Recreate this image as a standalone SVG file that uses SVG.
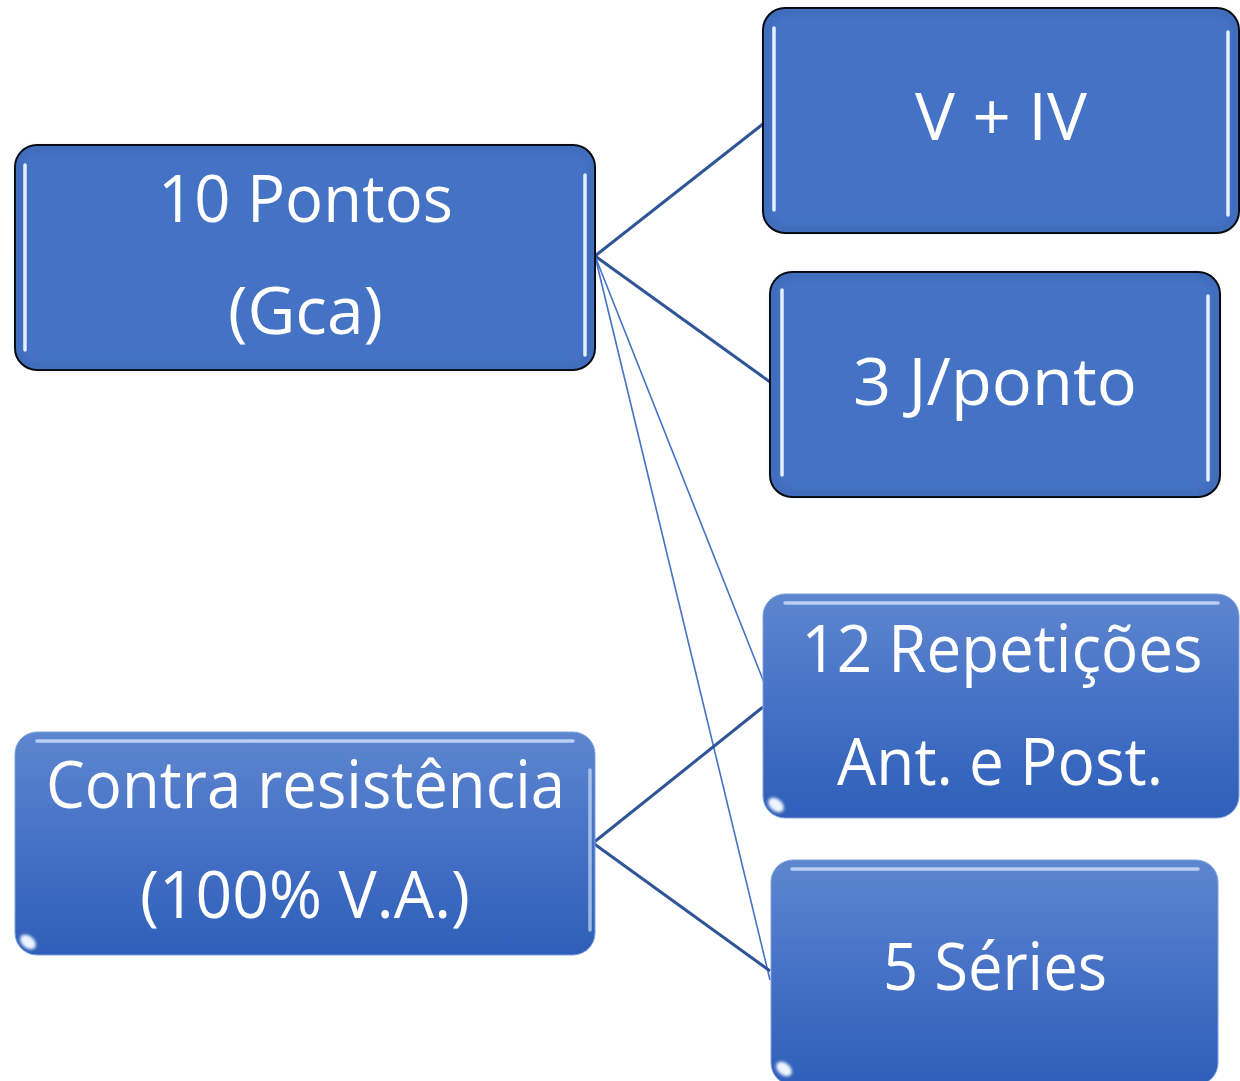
<svg xmlns="http://www.w3.org/2000/svg" width="1240" height="1081" viewBox="0 0 1240 1081">
  <defs>
    <linearGradient id="gradFill" x1="0" y1="0" x2="0" y2="1">
      <stop offset="0" stop-color="#5E86CF"/>
      <stop offset="0.5" stop-color="#4571C6"/>
      <stop offset="1" stop-color="#2F5FB9"/>
    </linearGradient>
    <filter id="glow" x="-50%" y="-50%" width="200%" height="200%">
      <feGaussianBlur stdDeviation="1.8"/>
    </filter>
    <filter id="soft" x="-50%" y="-50%" width="200%" height="200%">
      <feGaussianBlur stdDeviation="2.5"/>
    </filter>
  </defs>
  <style>
    .flat { fill: #4472C4; stroke: #000000; stroke-width: 2; }
    .grad { fill: url(#gradFill); stroke: #7FA2DE; stroke-width: 1; }
    .edge { fill: none; stroke: #3B63AE; stroke-width: 4; opacity: 0.6; filter: url(#soft); }
    .hl { stroke: #E4F0FF; stroke-width: 3.5; stroke-linecap: round; fill: none; }
    .hlglow { stroke: #9EC0FF; stroke-width: 9; stroke-linecap: round; fill: none; filter: url(#glow); opacity: 0.85; }
    .label { font-family: "Open Sans", "Noto Sans", "Liberation Sans", sans-serif; font-size: 66px; fill: #FFFFFF; text-anchor: middle; }
    .thick { stroke: #2F5597; stroke-width: 3; fill: none; }
    .thin { stroke: #4472C4; stroke-width: 1.6; fill: none; }
    .spot { fill: #EEF5FF; filter: url(#glow); }
  </style>

  <rect width="1240" height="1081" fill="#FFFFFF"/>

  <!-- connectors -->
  <g id="connectors">
    <line class="thick" x1="595" y1="256" x2="763" y2="124"/>
    <line class="thick" x1="595" y1="256" x2="770" y2="382"/>
    <line class="thin" x1="595" y1="256" x2="769" y2="695"/>
    <line class="thin" x1="595" y1="256" x2="770" y2="980"/>
    <line class="thick" x1="593" y1="843" x2="763" y2="707"/>
    <line class="thick" x1="593" y1="843" x2="770" y2="971"/>
  </g>

  <!-- 10 Pontos (Gca) -->
  <g id="node-pontos">
    <rect class="flat" x="15" y="145" width="580" height="225" rx="22"/>
    <rect class="edge" x="19" y="149" width="572" height="217" rx="19"/>
    <line class="hlglow" x1="25" y1="165" x2="25" y2="350"/>
    <line class="hl" x1="25" y1="165" x2="25" y2="350"/>
    <line class="hlglow" x1="585" y1="175" x2="585" y2="355"/>
    <line class="hl" x1="585" y1="175" x2="585" y2="355"/>
    <text class="label" x="305.5" y="222" textLength="295" lengthAdjust="spacingAndGlyphs">10 Pontos</text>
    <text class="label" x="305.5" y="334" textLength="155" lengthAdjust="spacingAndGlyphs">(Gca)</text>
  </g>

  <!-- V + IV -->
  <g id="node-v-iv">
    <rect class="flat" x="763" y="8" width="476" height="225" rx="22"/>
    <rect class="edge" x="767" y="12" width="468" height="217" rx="19"/>
    <line class="hlglow" x1="774" y1="28" x2="774" y2="210"/>
    <line class="hl" x1="774" y1="28" x2="774" y2="210"/>
    <line class="hlglow" x1="1228" y1="32" x2="1228" y2="215"/>
    <line class="hl" x1="1228" y1="32" x2="1228" y2="215"/>
    <text class="label" x="1001" y="140" textLength="172" lengthAdjust="spacingAndGlyphs">V + IV</text>
  </g>

  <!-- 3 J/ponto -->
  <g id="node-joules">
    <rect class="flat" x="770" y="272" width="450" height="225" rx="22"/>
    <rect class="edge" x="774" y="276" width="442" height="217" rx="19"/>
    <line class="hlglow" x1="782" y1="290" x2="782" y2="475"/>
    <line class="hl" x1="782" y1="290" x2="782" y2="475"/>
    <line class="hlglow" x1="1208" y1="296" x2="1208" y2="480"/>
    <line class="hl" x1="1208" y1="296" x2="1208" y2="480"/>
    <text class="label" x="995" y="405" textLength="284" lengthAdjust="spacingAndGlyphs">3 J/ponto</text>
  </g>

  <!-- 12 Repetições Ant. e Post. -->
  <g id="node-repeticoes">
    <rect class="grad" x="763" y="594" width="476" height="224" rx="22"/>
    <line class="hlglow" x1="785" y1="603" x2="1218" y2="603"/>
    <line class="hl" x1="785" y1="603" x2="1218" y2="603" stroke-width="2" opacity="0.7"/>
    <line class="hlglow" x1="1234" y1="615" x2="1234" y2="800" opacity="0.5"/>
    <line class="hlglow" x1="767" y1="615" x2="767" y2="790" opacity="0.35"/>
    <ellipse class="spot" cx="776" cy="805" rx="9" ry="6" transform="rotate(40 776 805)"/>
    <text class="label" x="1002" y="672" textLength="401" lengthAdjust="spacingAndGlyphs">12 Repetições</text>
    <text class="label" x="1000" y="785" textLength="326" lengthAdjust="spacingAndGlyphs">Ant. e Post.</text>
  </g>

  <!-- 5 Séries -->
  <g id="node-series">
    <rect class="grad" x="771" y="860" width="447" height="225" rx="22"/>
    <line class="hlglow" x1="792" y1="869" x2="1198" y2="869"/>
    <line class="hl" x1="792" y1="869" x2="1198" y2="869" stroke-width="2" opacity="0.7"/>
    <line class="hlglow" x1="1213" y1="880" x2="1213" y2="1070" opacity="0.5"/>
    <line class="hlglow" x1="775" y1="880" x2="775" y2="1060" opacity="0.35"/>
    <ellipse class="spot" cx="784" cy="1069" rx="9" ry="6" transform="rotate(40 784 1069)"/>
    <text class="label" x="995" y="990" textLength="224" lengthAdjust="spacingAndGlyphs">5 Séries</text>
  </g>

  <!-- Contra resistência (100% V.A.) -->
  <g id="node-resistencia">
    <rect class="grad" x="15" y="732" width="580" height="223" rx="22"/>
    <line class="hlglow" x1="37" y1="741" x2="573" y2="741"/>
    <line class="hl" x1="37" y1="741" x2="573" y2="741" stroke-width="2" opacity="0.7"/>
    <line class="hlglow" x1="590" y1="752" x2="590" y2="938" opacity="0.6"/>
    <line class="hl" x1="590" y1="770" x2="590" y2="930" stroke-width="1.5" opacity="0.6"/>
    <line class="hlglow" x1="19" y1="752" x2="19" y2="930" opacity="0.35"/>
    <ellipse class="spot" cx="28" cy="942" rx="9" ry="6" transform="rotate(40 28 942)"/>
    <text class="label" x="305.5" y="808" textLength="519" lengthAdjust="spacingAndGlyphs">Contra resistência</text>
    <text class="label" x="305" y="918" textLength="330" lengthAdjust="spacingAndGlyphs">(100% V.A.)</text>
  </g>
</svg>
